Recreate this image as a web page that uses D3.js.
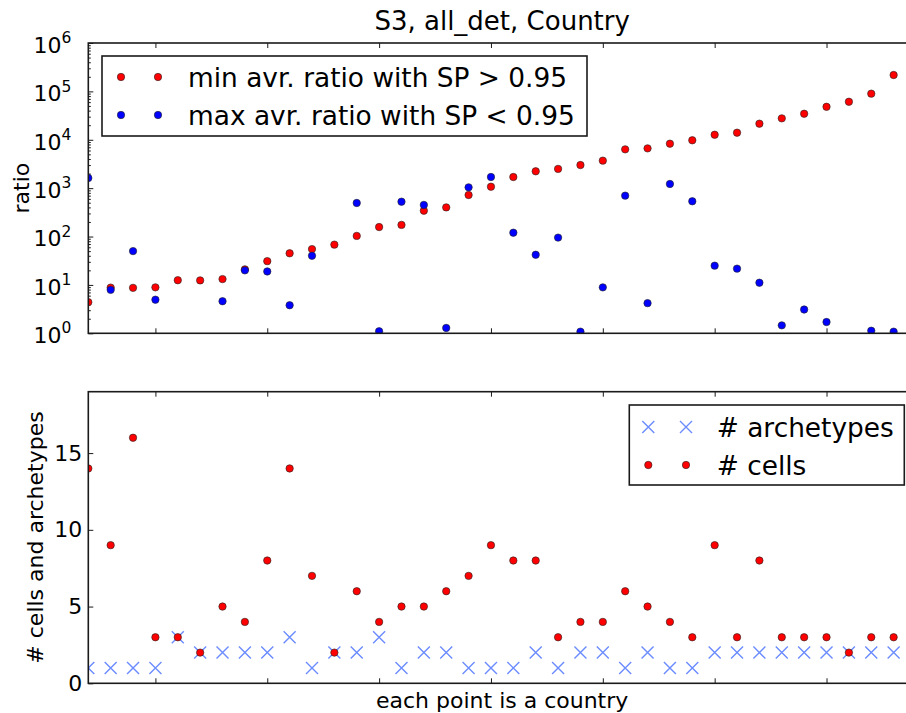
<!DOCTYPE html>
<html>
<head>
<meta charset="utf-8">
<script src="https://cdn.jsdelivr.net/npm/d3@7"></script>
<style>
  body { margin: 0; background: #fff; }
  svg { display: block; }
  text { font-family: "DejaVu Sans", sans-serif; fill: #000; }
</style>
</head>
<body>
<svg id="chart" width="906" height="713"></svg>
<script>
// One entry per country, in plotting order
const countryIndex = d3.range(37);
const minRatioAbove = [4.4, 8.8, 8.7, 8.9, 12.5, 12.4, 13.2, 21, 31, 45, 55, 68, 103, 157, 174, 342, 400,
  722, 1070, 1700, 2230, 2500, 3000, 3700, 6340, 6640, 8300, 9760, 12700, 14000, 21500, 27700, 34500,
  48000, 61000, 89700, 218000];
const maxRatioBelow = [1620, 7.9, 50, 4.95, null, null, 4.6, 20, 19, 3.8, 40, null, 494, 1.1, 525, 450, 1.29,
  1040, 1700, 120, 42, 95, 1.08, 8.9, 700, 4.2, 1220, 535, 25, 21.7, 11.1, 1.46, 3.1, 1.71, null, 1.13, 1.08];
const archetypes = [1, 1, 1, 1, 3, 2, 2, 2, 2, 3, 1, 2, 2, 3, 1, 2, 2, 1, 1, 1, 2, 1, 2, 2, 1, 2, 1, 1, 2, 2,
  2, 2, 2, 2, 2, 2, 2];
const cells = [14, 9, 16, 3, 3, 2, 5, 4, 8, 14, 7, 2, 6, 4, 5, 5, 6, 7, 9, 8, 8, 3, 4, 4, 6, 5, 4, 3, 9, 3, 8,
  3, 3, 3, 2, 3, 3];
const xTicks = [3, 8, 13, 18, 23, 28, 33];
const ratioTicks = [1, 10, 100, 1e3, 1e4, 1e5, 1e6];
const countTicks = [0, 5, 10, 15];

const svg = d3.select("#chart");
const left = 88.3, right = 916;
const top1 = 43, bot1 = 333.3;
const top2 = 391.7, bot2 = 683.3;

const RED = "#ff0000", BLUE = "#0000ff", XBLUE = "#6b8cff", SPINE = "#1a1a1a";

const x = d3.scaleLinear().domain([0, 37]).range([left, right]);
const yRatio = d3.scaleLog().domain([1, 1e6]).range([bot1, top1]);
const yCount = d3.scaleLinear().domain([0, 19]).range([bot2, top2]);

const defs = svg.append("defs");
defs.append("clipPath").attr("id", "clipTop").append("rect")
  .attr("x", left).attr("y", top1).attr("width", right - left).attr("height", bot1 - top1);
defs.append("clipPath").attr("id", "clipBot").append("rect")
  .attr("x", left).attr("y", top2).attr("width", right - left).attr("height", bot2 - top2);

function styleAxis(g) {
  g.select(".domain").remove();
  g.selectAll(".tick line").attr("stroke", SPINE).attr("stroke-width", 1);
}

function frame(yTop, yBot) {
  // x ticks on the bottom and top edges, pointing inwards
  svg.append("g").attr("transform", `translate(0,${yBot})`)
    .call(d3.axisBottom(x).tickValues(xTicks).tickSize(-5).tickFormat(""))
    .call(styleAxis);
  svg.append("g").attr("transform", `translate(0,${yTop})`)
    .call(d3.axisTop(x).tickValues(xTicks).tickSize(-5).tickFormat(""))
    .call(styleAxis);
}

function spines(yTop, yBot) {
  svg.append("rect").attr("x", left).attr("y", yTop)
    .attr("width", right - left).attr("height", yBot - yTop)
    .attr("fill", "none").attr("stroke", SPINE).attr("stroke-width", 1.6);
}

// ---------- top panel: ratios on a log scale ----------
frame(top1, bot1);
const minorRatio = [];
for (let e = 0; e < 6; e++) for (let m = 2; m <= 9; m++) minorRatio.push(m * Math.pow(10, e));
svg.append("g").attr("transform", `translate(${left},0)`)
  .call(d3.axisLeft(yRatio).tickValues(minorRatio).tickSize(-2.5).tickFormat(""))
  .call(styleAxis);
svg.append("g").attr("transform", `translate(${right},0)`)
  .call(d3.axisRight(yRatio).tickValues(minorRatio).tickSize(-2.5).tickFormat(""))
  .call(styleAxis);
svg.append("g").attr("transform", `translate(${right},0)`)
  .call(d3.axisRight(yRatio).tickValues(ratioTicks).tickSize(-5).tickFormat(""))
  .call(styleAxis);
const yAxisTop = svg.append("g").attr("transform", `translate(${left},0)`)
  .call(d3.axisLeft(yRatio).tickValues(ratioTicks).tickSize(-5).tickPadding(17).tickFormat(""))
  .call(styleAxis);
yAxisTop.selectAll(".tick text").each(function (d) {
  const t = d3.select(this).attr("font-size", 22).attr("font-family", null).attr("fill", "#000")
    .attr("dy", "0.42em");
  t.text("10");
  t.append("tspan").attr("dy", "-0.62em").attr("font-size", 15.5).text(String(Math.round(Math.log10(d))));
});

const gTop = svg.append("g").attr("clip-path", "url(#clipTop)");
gTop.selectAll("circle.min").data(countryIndex).join("circle").attr("class", "min")
  .attr("cx", i => x(i)).attr("cy", i => yRatio(minRatioAbove[i])).attr("r", 3.7)
  .attr("fill", RED).attr("stroke", "#222").attr("stroke-width", 0.6);
gTop.selectAll("circle.max").data(countryIndex.filter(i => maxRatioBelow[i] != null)).join("circle")
  .attr("class", "max")
  .attr("cx", i => x(i)).attr("cy", i => yRatio(maxRatioBelow[i])).attr("r", 3.7)
  .attr("fill", BLUE).attr("stroke", "#222").attr("stroke-width", 0.6);
spines(top1, bot1);

// ---------- bottom panel: counts ----------
frame(top2, bot2);
svg.append("g").attr("transform", `translate(${right},0)`)
  .call(d3.axisRight(yCount).tickValues(countTicks).tickSize(-5).tickFormat(""))
  .call(styleAxis);
const yAxisBot = svg.append("g").attr("transform", `translate(${left},0)`)
  .call(d3.axisLeft(yCount).tickValues(countTicks).tickSize(-5).tickPadding(6).tickFormat(d3.format("d")))
  .call(styleAxis);
yAxisBot.selectAll(".tick text").attr("font-size", 22).attr("font-family", null).attr("fill", "#000");

const gBot = svg.append("g").attr("clip-path", "url(#clipBot)");
const cross = "M-6,-6L6,6M-6,6L6,-6";
gBot.selectAll("path.arch").data(countryIndex).join("path").attr("class", "arch")
  .attr("transform", i => `translate(${x(i)},${yCount(archetypes[i])})`)
  .attr("d", cross).attr("stroke", XBLUE).attr("stroke-width", 1.4).attr("fill", "none");
gBot.selectAll("circle.cell").data(countryIndex).join("circle").attr("class", "cell")
  .attr("cx", i => x(i)).attr("cy", i => yCount(cells[i])).attr("r", 3.7)
  .attr("fill", RED).attr("stroke", "#222").attr("stroke-width", 0.6);
spines(top2, bot2);

// ---------- legends ----------
function legend(bx, by, bw, bh, mx, entries, fs) {
  svg.append("rect").attr("x", bx).attr("y", by).attr("width", bw).attr("height", bh)
    .attr("fill", "#fff").attr("stroke", SPINE).attr("stroke-width", 1.6);
  entries.forEach(e => {
    mx.forEach(px => {
      if (e.kind === "x") {
        svg.append("path").attr("transform", `translate(${px},${e.y})`).attr("d", cross)
          .attr("stroke", XBLUE).attr("stroke-width", 1.4).attr("fill", "none");
      } else {
        svg.append("circle").attr("cx", px).attr("cy", e.y).attr("r", 3.7)
          .attr("fill", e.color).attr("stroke", "#222").attr("stroke-width", 0.6);
      }
    });
    svg.append("text").attr("x", e.tx).attr("y", e.y).attr("dy", "0.36em")
      .attr("font-size", fs).text(e.label);
  });
}
legend(102, 56, 485, 80, [121, 158], [
  { kind: "o", color: RED, y: 77, tx: 188, label: "min avr. ratio with SP > 0.95" },
  { kind: "o", color: BLUE, y: 115, tx: 188, label: "max avr. ratio with SP < 0.95" }
], 26.4);
legend(629.3, 405, 275, 80, [648.3, 686], [
  { kind: "x", y: 427, tx: 716.7, label: "# archetypes" },
  { kind: "o", color: RED, y: 465, tx: 716.7, label: "# cells" }
], 26.4);

// ---------- titles and axis labels ----------
svg.append("text").attr("x", (left + right) / 2).attr("y", 30).attr("text-anchor", "middle")
  .attr("font-size", 26).text("S3, all_det, Country");
svg.append("text").attr("transform", `translate(29,${(top1 + bot1) / 2}) rotate(-90)`)
  .attr("text-anchor", "middle").attr("font-size", 22).text("ratio");
svg.append("text").attr("transform", `translate(43,${(top2 + bot2) / 2}) rotate(-90)`)
  .attr("text-anchor", "middle").attr("font-size", 22).text("# cells and archetypes");
svg.append("text").attr("x", (left + right) / 2).attr("y", 708).attr("text-anchor", "middle")
  .attr("font-size", 22).text("each point is a country");
</script>
</body>
</html>
